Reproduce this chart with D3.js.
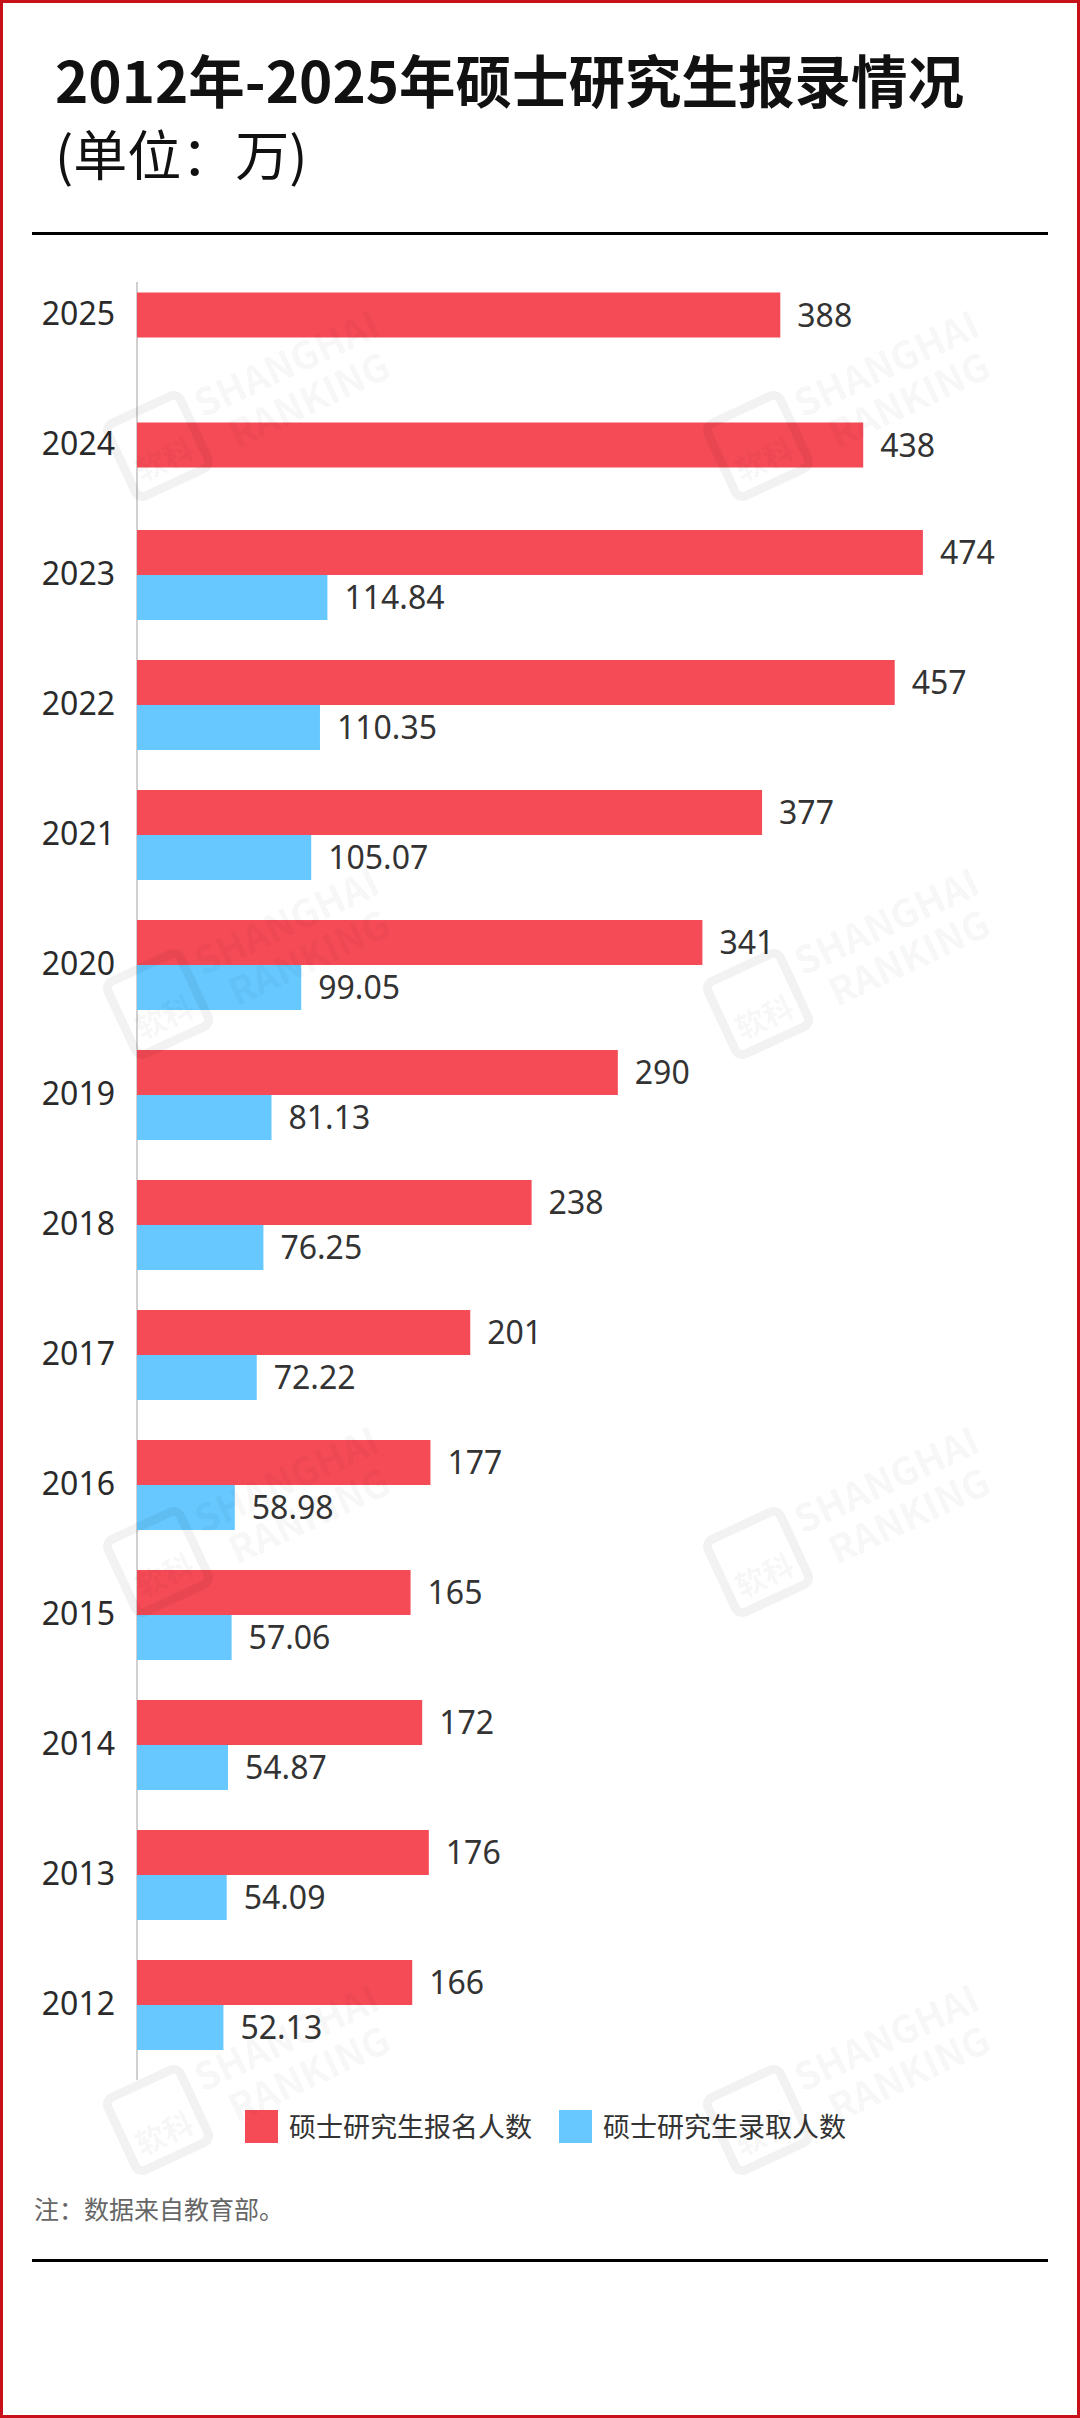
<!DOCTYPE html>
<html lang="zh-CN">
<head>
<meta charset="UTF-8">
<title>2012年-2025年硕士研究生报录情况</title>
<script src="https://cdn.jsdelivr.net/npm/d3@7"></script>
<style>
  body { margin: 0; background: #fff; }
  svg { display: block; }
  text { font-family: "Noto Sans CJK SC", "Noto Sans", sans-serif; }
  .num { font-family: "Noto Sans", "Noto Sans CJK SC", sans-serif; }
</style>
</head>
<body>
<div id="container"></div>
<script>
// data (unit: 万)
const years = ["2025", "2024", "2023", "2022", "2021", "2020", "2019", "2018", "2017", "2016", "2015", "2014", "2013", "2012"]
const registered = [388, 438, 474, 457, 377, 341, 290, 238, 201, 177, 165, 172, 176, 166]
const admitted = [null, null, 114.84, 110.35, 105.07, 99.05, 81.13, 76.25, 72.22, 58.98, 57.06, 54.87, 54.09, 52.13]
const seriesNames = ["硕士研究生报名人数", "硕士研究生录取人数"]
const colors = ["#f54b56", "#66c8ff"]

const W = 1080, H = 2418
const svg = d3.select("#container").append("svg").attr("width", W).attr("height", H)

//frame
svg.append("rect").attr("x", 1.5).attr("y", 1.5).attr("width", W - 3).attr("height", H - 3)
  .attr("fill", "#fff").attr("stroke", "#c8101a").attr("stroke-width", 3)

//title
svg.append("text").attr("x", 55).attr("y", 103).attr("font-size", 56.5).attr("font-weight", 700)
  .attr("fill", "#111").text("2012年-2025年硕士研究生报录情况")
svg.append("text").attr("x", 55).attr("y", 176).attr("font-size", 54)
  .attr("fill", "#111").text("(单位：万)")
svg.append("rect").attr("x", 32).attr("y", 232).attr("width", 1016).attr("height", 3).attr("fill", "#000")

//scales
const x = d3.scaleLinear().domain([0, 500]).range([137, 966])
const y = d3.scaleBand().domain(years).range([250, 2070]).paddingInner(40 / 130).paddingOuter(20 / 130)
const sub = d3.scaleBand().domain([0, 1]).range([0, y.bandwidth()])

const rows = years.map((yr, i) => ({ year: yr, values: [registered[i], admitted[i]] }))

//axis line
svg.append("line").attr("x1", x(0)).attr("x2", x(0)).attr("y1", 282).attr("y2", 2080)
  .attr("stroke", "#d0d0d0").attr("stroke-width", 2)

//bars
const groups = svg.selectAll("g.row").data(rows).enter().append("g").attr("class", "row")
  .attr("transform", d => `translate(0,${y(d.year)})`)

groups.each(function (d) {
  const g = d3.select(this)
  const single = d.values[1] == null
  d.values.forEach((v, k) => {
    if (v == null) return
    const top = single ? (y.bandwidth() - sub.bandwidth()) / 2 : sub(k)
    g.append("rect").attr("x", x(0)).attr("y", top)
      .attr("width", x(v) - x(0)).attr("height", sub.bandwidth()).attr("fill", colors[k])
    g.append("text").attr("class", "num").attr("x", x(v) + 17).attr("y", top + sub.bandwidth() / 2)
      .attr("dy", "0.36em").attr("font-size", 32).attr("fill", "#333").text(v)
  })
})

//year labels
const yAxis = d3.axisLeft(y).tickSize(0).tickPadding(22)
const ax = svg.append("g").attr("transform", `translate(${x(0)},0)`).call(yAxis)
ax.select(".domain").remove()
ax.selectAll("text").attr("class", "num").attr("font-size", 32).attr("fill", "#2a2a2a")
  .attr("font-family", "Noto Sans, sans-serif")

//legend
const legend = svg.append("g").attr("transform", "translate(245,2110)")
const legendX = [0, 314]
seriesNames.forEach((name, k) => {
  legend.append("rect").attr("x", legendX[k]).attr("y", 0).attr("width", 33).attr("height", 33).attr("fill", colors[k])
  legend.append("text").attr("x", legendX[k] + 44).attr("y", 17).attr("dy", "0.36em")
    .attr("font-size", 27).attr("fill", "#333").text(name)
})

//note + bottom rule
svg.append("text").attr("x", 34).attr("y", 2219).attr("font-size", 25).attr("fill", "#666").text("注：数据来自教育部。")
svg.append("rect").attr("x", 32).attr("y", 2259).attr("width", 1016).attr("height", 3).attr("fill", "#000")

//watermarks
const marks = []
;[446, 1004, 1562, 2120].forEach(cy => [158, 758].forEach(cx => marks.push([cx, cy])))
const wm = svg.selectAll("g.wm").data(marks).enter().append("g").attr("class", "wm")
  .attr("transform", d => `translate(${d[0]},${d[1]}) rotate(-25)`)
  .attr("fill", "rgba(0,0,0,0.05)").attr("pointer-events", "none")
wm.append("rect").attr("x", -40).attr("y", -40).attr("width", 80).attr("height", 80).attr("rx", 8)
  .attr("fill", "none").attr("stroke", "rgba(0,0,0,0.05)").attr("stroke-width", 9)
wm.append("text").attr("x", 0).attr("y", 26).attr("text-anchor", "middle").attr("font-size", 30)
  .attr("font-weight", 700).text("软科")
wm.append("text").attr("x", 52).attr("y", -6).attr("font-size", 38).attr("font-weight", 700)
  .attr("font-family", "Noto Sans, sans-serif").text("SHANGHAI")
wm.append("text").attr("x", 70).attr("y", 36).attr("font-size", 38).attr("font-weight", 700)
  .attr("font-family", "Noto Sans, sans-serif").text("RANKING")
</script>
</body>
</html>
